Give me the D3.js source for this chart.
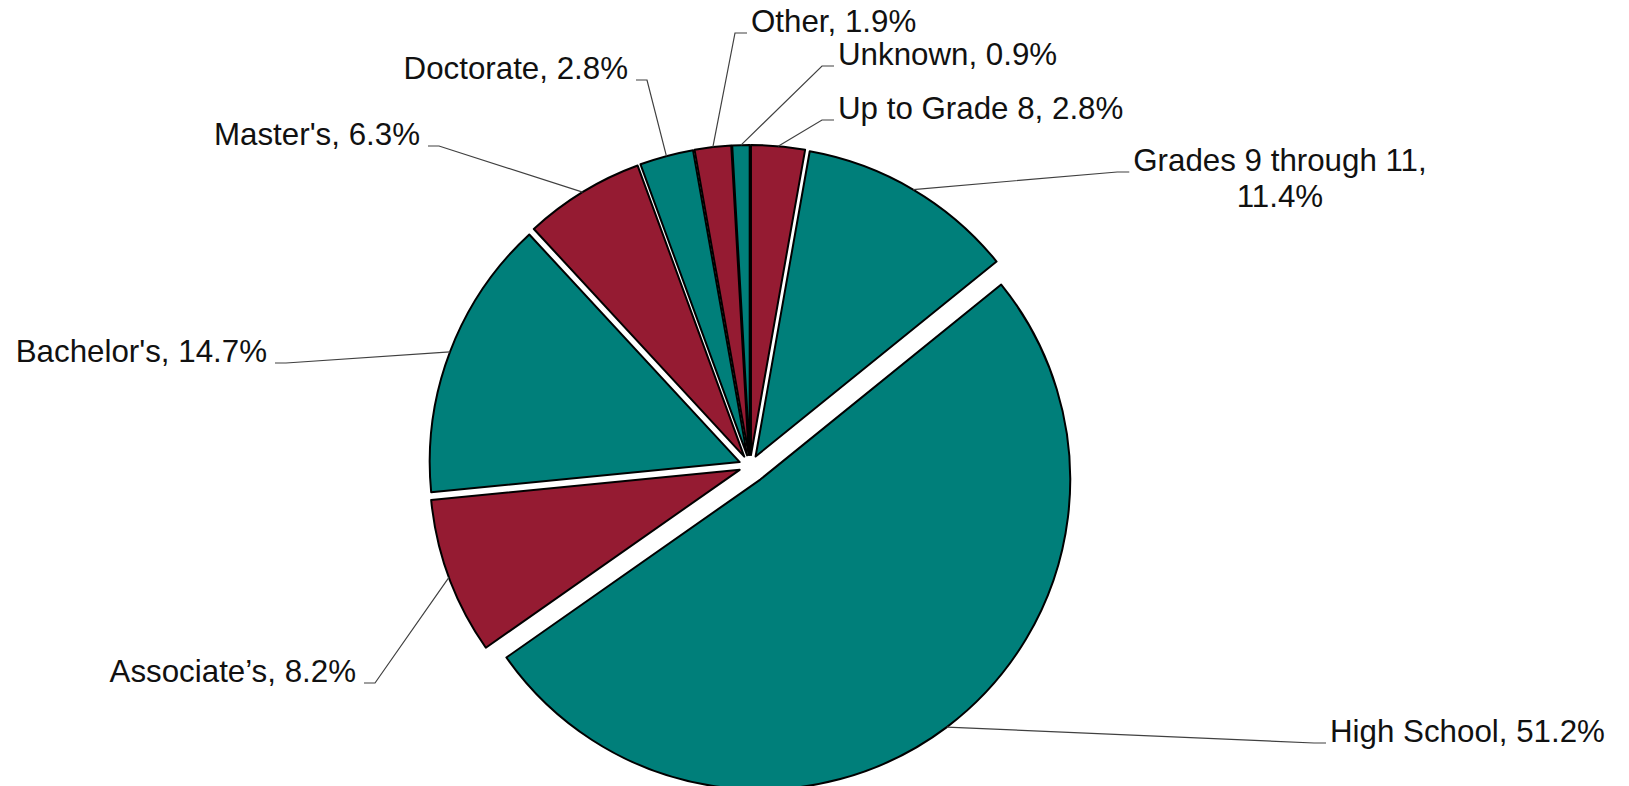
<!DOCTYPE html>
<html>
<head>
<meta charset="utf-8">
<script src="https://cdn.jsdelivr.net/npm/d3@7"></script>
<style>
  body { margin: 0; background: #fff; }
  text { font-family: "Liberation Sans", Arial, sans-serif; fill: #111; }
</style>
</head>
<body>
<div id="chart"></div>
<script>
// education level shares, clockwise from 12 o'clock
const categories = ["Up to Grade 8", "Grades 9 through 11", "High School", "Associate’s",
  "Bachelor's", "Master's", "Doctorate", "Other", "Unknown"];
const shares = [2.8, 11.4, 51.2, 8.2, 14.7, 6.3, 2.8, 1.9, 0.9];
const colorGroup = ["b", "a", "a", "b", "a", "b", "a", "b", "a"];

const width = 1629, height = 786;
const cx = 750, cy = 466, radius = 310;
const fontSize = 31.3;

const color = d3.scaleOrdinal().domain(["a", "b"]).range(["#007f7a", "#951b32"]);

// how far each slice is pulled out of the pie
const explode = d => d.data.name === "High School" ? 17 : 11;

// where each data label sits (baseline)
const labelLayout = {
  "Up to Grade 8": { x: 838, y: 119, anchor: "start" },
  "Grades 9 through 11": { x: 1280, y: 171, anchor: "middle" },
  "High School": { x: 1330, y: 742, anchor: "start" },
  "Associate’s": { x: 356, y: 682, anchor: "end" },
  "Bachelor's": { x: 267, y: 362, anchor: "end" },
  "Master's": { x: 420, y: 145, anchor: "end" },
  "Doctorate": { x: 628, y: 79, anchor: "end" },
  "Other": { x: 751, y: 32, anchor: "start" },
  "Unknown": { x: 838, y: 65, anchor: "start" }
};

const data = categories.map((name, i) => ({ name, value: shares[i], group: colorGroup[i] }));

const pie = d3.pie().sort(null).value(d => d.value);
const arc = d3.arc().innerRadius(0).outerRadius(radius);
const arcs = pie(data);

const svg = d3.select("#chart").append("svg")
  .attr("width", width)
  .attr("height", height);

const g = svg.append("g")
  .attr("transform", "translate(" + cx + "," + cy + ")");

const unit = d => {
  const a = (d.startAngle + d.endAngle) / 2;
  return [Math.sin(a), -Math.cos(a)];
};

g.selectAll(".slice")
  .data(arcs)
  .enter().append("path")
  .attr("class", "slice")
  .attr("transform", d => {
    const u = unit(d), e = explode(d);
    return "translate(" + u[0] * e + "," + u[1] * e + ")";
  })
  .attr("d", arc)
  .attr("fill", d => color(d.data.group))
  .attr("stroke", "#000")
  .attr("stroke-width", 2)
  .attr("stroke-linejoin", "round");

// labels
const labels = svg.append("g");
arcs.forEach(d => {
  const L = labelLayout[d.data.name];
  const t = labels.append("text")
    .attr("x", L.x)
    .attr("y", L.y)
    .attr("text-anchor", L.anchor)
    .style("font-size", fontSize + "px");
  const pct = d.data.value.toFixed(1) + "%";
  let firstLen;
  if (d.data.name === "Grades 9 through 11") {
    const t1 = t.append("tspan").attr("x", L.x).text(d.data.name + ",");
    t.append("tspan").attr("x", L.x).attr("dy", 36).text(pct);
    firstLen = t1.node().getComputedTextLength();
  } else {
    t.text(d.data.name + ", " + pct);
    firstLen = t.node().getComputedTextLength();
  }

  // leader line: slice rim -> elbow -> short horizontal into the label
  const u = unit(d), r = radius + explode(d);
  const sx = cx + u[0] * r, sy = cy + u[1] * r;
  let ex, kx;
  if (L.anchor === "end") {
    ex = L.x + 8; kx = ex + 11;
  } else {
    const left = L.anchor === "middle" ? L.x - firstLen / 2 : L.x;
    ex = left - 4; kx = ex - 12;
  }
  const ey = L.y + 1;
  labels.append("path")
    .attr("d", d3.line()([[sx, sy], [kx, ey], [ex, ey]]))
    .attr("fill", "none")
    .attr("stroke", "#404040")
    .attr("stroke-width", 1.2);
});
</script>
</body>
</html>
